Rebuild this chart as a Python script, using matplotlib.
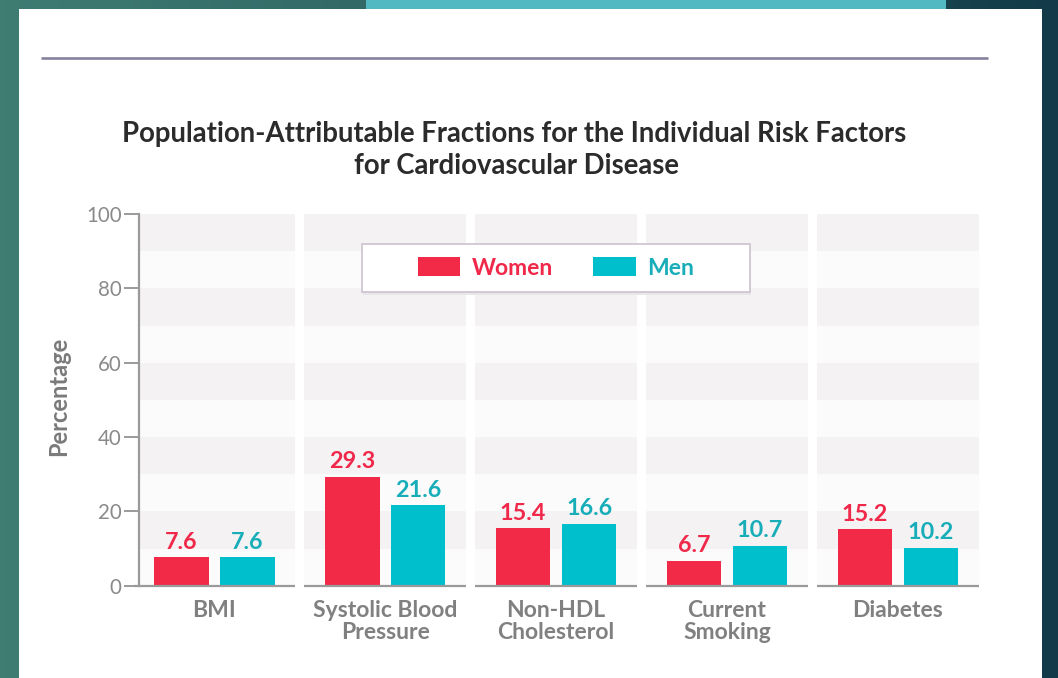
import numpy as np
import matplotlib
matplotlib.use("Agg")
import matplotlib.pyplot as plt
from matplotlib.patches import Rectangle
from matplotlib.colors import LinearSegmentedColormap

# ---------------- data ----------------
categories = ["BMI", "Systolic Blood\nPressure", "Non-HDL\nCholesterol", "Current\nSmoking", "Diabetes"]
women = [7.6, 29.3, 15.4, 6.7, 15.2]
men = [7.6, 21.6, 16.6, 10.7, 10.2]
yticks = [0, 20, 40, 60, 80, 100]
series_names = ["Women", "Men"]
title_lines = ["Population-Attributable Fractions for the Individual Risk Factors",
               "for Cardiovascular Disease"]
ylabel = "Percentage"

# ---------------- style ----------------
FONT = "Lato"
W_COL = "#f22a48"
M_COL = "#00bfcc"
W_TXT = "#f0284a"
M_TXT = "#17adb9"
GRAY = "#8a8a8a"
BAND_DARK = "#f4f2f3"
BAND_LIGHT = "#fbfbfb"

W, H = 1058, 678
fig = plt.figure(figsize=(W / 100, H / 100), dpi=100)
fig.patch.set_facecolor("white")

# background frame (slide look)
bg = fig.add_axes([0, 0, 1, 1], zorder=-10)
bg.set_xlim(0, W)
bg.set_ylim(H, 0)
bg.axis("off")
cmap = LinearSegmentedColormap.from_list("g", ["#3f7c72", "#2c6062", "#123a48"])
grad = np.linspace(0, 1, 256).reshape(1, -1)
bg.imshow(grad, extent=(0, W, H, 0), aspect="auto", cmap=cmap, zorder=0)
bg.add_patch(Rectangle((366, 0), 580, 9, color="#52b9c2", zorder=1, lw=0))
bg.add_patch(Rectangle((19, 9), 1023, H - 9, color="white", zorder=2, lw=0))
bg.plot([41, 988], [58, 58], color="#86829e", lw=1.9, zorder=3, solid_capstyle="butt")

# title
bg.text(514, 142, title_lines[0], ha="center", va="baseline", fontsize=19.8,
        fontweight="bold", family=FONT, color="#2b2b2b", zorder=4)
bg.text(517, 174, title_lines[1], ha="center", va="baseline", fontsize=19.8,
        fontweight="bold", family=FONT, color="#2b2b2b", zorder=4)

# main axes
ax_l, ax_r, ax_t, ax_b = 139, 980, 214, 585.7
ax = fig.add_axes([ax_l / W, 1 - ax_b / H, (ax_r - ax_l) / W, (ax_b - ax_t) / H])
ax.patch.set_visible(False)
x = np.arange(len(categories))
ax.set_xlim(-0.44, 4.48)
ax.set_ylim(0, 100)

half = 0.472
for xi in x:
    for k in range(10):
        ax.add_patch(Rectangle((xi - half, 10 * k), 2 * half, 10,
                               color=BAND_DARK if k % 2 == 1 else BAND_LIGHT,
                               lw=0, zorder=0))
    ax.plot([xi - half, xi + half], [0, 0], color="#9a9a9a", lw=1.6,
            clip_on=False, zorder=3, solid_capstyle="butt")

bw = 0.32
off = 0.193
bw_bars = ax.bar(x - off, women, bw, color=W_COL, zorder=2, label=series_names[0])
bm_bars = ax.bar(x + off, men, bw, color=M_COL, zorder=2, label=series_names[1])

for xi, v in zip(x, women):
    ax.text(xi - off, v + 2.3, f"{v}", ha="center", va="baseline", fontsize=16.8,
            fontweight="bold", family=FONT, color=W_TXT, zorder=4)
for xi, v in zip(x, men):
    ax.text(xi + off, v + 2.3, f"{v}", ha="center", va="baseline", fontsize=16.8,
            fontweight="bold", family=FONT, color=M_TXT, zorder=4)

# axes styling
for s in ["top", "right", "bottom"]:
    ax.spines[s].set_visible(False)
ax.spines["left"].set_color("#9a9a9a")
ax.spines["left"].set_linewidth(1.6)
ax.set_yticks(yticks)
ax.set_yticklabels([str(t) for t in yticks], family=FONT, fontsize=14.8, color=GRAY)
ax.tick_params(axis="y", length=11, width=1.4, color="#9a9a9a", pad=1.5)
ax.set_xticks(x)
ax.set_xticklabels(categories, family=FONT, fontsize=16.5, fontweight="bold",
                   color="#808080", linespacing=1.08)
ax.tick_params(axis="x", length=0, pad=10)
ax.set_ylabel(ylabel, family=FONT, fontsize=17, fontweight="bold", color="#7a7a7a")
ax.yaxis.set_label_coords(-0.082, 0.51)

# legend frame
lx0, lx1, ly0, ly1 = 362, 750, 244, 292
ax.add_patch(Rectangle(((lx0 + 1) / W, 1 - (ly1 + 3) / H), (lx1 - lx0) / W, (ly1 - ly0) / H,
                       transform=fig.transFigure, facecolor="#e9e6e9", edgecolor="none",
                       zorder=5, clip_on=False))
ax.add_patch(Rectangle((lx0 / W, 1 - ly1 / H), (lx1 - lx0) / W, (ly1 - ly0) / H,
                       transform=fig.transFigure, facecolor="white", edgecolor="#d0c6d2",
                       lw=1.3, zorder=5.5, clip_on=False))
leg = ax.legend(handles=[bw_bars, bm_bars], loc="center",
                bbox_to_anchor=(556 / W, 1 - 268 / H), bbox_transform=fig.transFigure,
                ncol=2, frameon=False, prop={"family": FONT, "size": 16.5, "weight": "bold"},
                handlelength=1.85, handleheight=0.9, handletextpad=0.5, columnspacing=1.75)
leg.set_zorder(6)
for t, c in zip(leg.get_texts(), [W_TXT, M_TXT]):
    t.set_color(c)

fig.savefig("out.png", dpi=100)
